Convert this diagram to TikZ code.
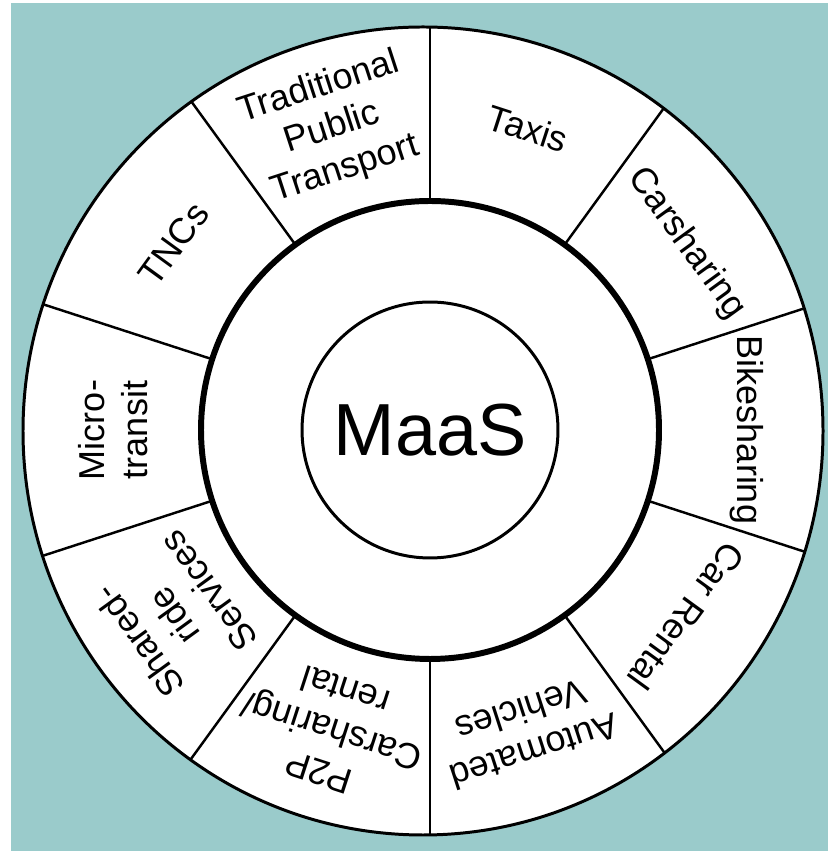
\documentclass[tikz,border=0pt]{standalone}
\usepackage{fontspec}
\setmainfont{Liberation Sans}
\usetikzlibrary{positioning,calc}
\definecolor{maasteal}{RGB}{154,203,203}

\begin{document}
\begin{tikzpicture}[x=0.02cm,y=0.02cm,
		seg/.style={align=center,inner sep=0pt,font=\fontsize{20.5}{24.5}\selectfont}]
		\useasboundingbox (0,0) rectangle (828,851);
		\fill[white] (0,0) rectangle (828,851);
		\fill[maasteal] (11,0) rectangle (828,848);
		\coordinate (c) at (430,421);
		\coordinate (rim) at (423,420);
		\fill[white] (rim) ellipse [x radius=400,y radius=404];
		\begin{scope}
			\clip (rim) ellipse [x radius=400,y radius=404];
			\foreach \a in {90,54,...,-234}
				\draw[line width=1.4pt] ($(c)+(\a:229)$) -- ($(c)+(\a:440)$);
		\end{scope}
		\draw[line width=1.7pt] (rim) ellipse [x radius=400,y radius=404];
		\draw[line width=3.4pt] (c) circle [radius=229];
		\node[draw,circle,line width=1.7pt,minimum size=5.12cm,inner sep=0pt,
			font=\fontsize{42}{50}\selectfont] (maas) at (c) {MaaS};
		\node[seg,rotate=18] (tpt) at ($(c)+(108:317)$) {Traditional\\Public\\Transport};
		\node[seg,rotate=-18] (taxis) at ($(c)+(72:317)$) {Taxis};
		\node[seg,rotate=-54] (carsharing) at ($(c)+(36:317)$) {Carsharing};
		\node[seg,rotate=-90] (bikesharing) at ($(c)+(0:317)$) {Bikesharing};
		\node[seg,rotate=-126] (carrental) at ($(c)+(-36:317)$) {Car Rental};
		\node[seg,rotate=-162] (av) at ($(c)+(-72:317)$) {Automated\\Vehicles};
		\node[seg,rotate=162] (p2p) at ($(c)+(-108:317)$) {P2P\\Carsharing/\\rental};
		\node[seg,rotate=126] (sharedride) at ($(c)+(-144:317)$) {Shared-\\ride\\Services};
		\node[seg,rotate=90] (microtransit) at ($(c)+(180:317)$) {Micro-\\transit};
		\node[seg,rotate=54] (tncs) at ($(c)+(144:317)$) {TNCs};
	\end{tikzpicture}
\end{document}
